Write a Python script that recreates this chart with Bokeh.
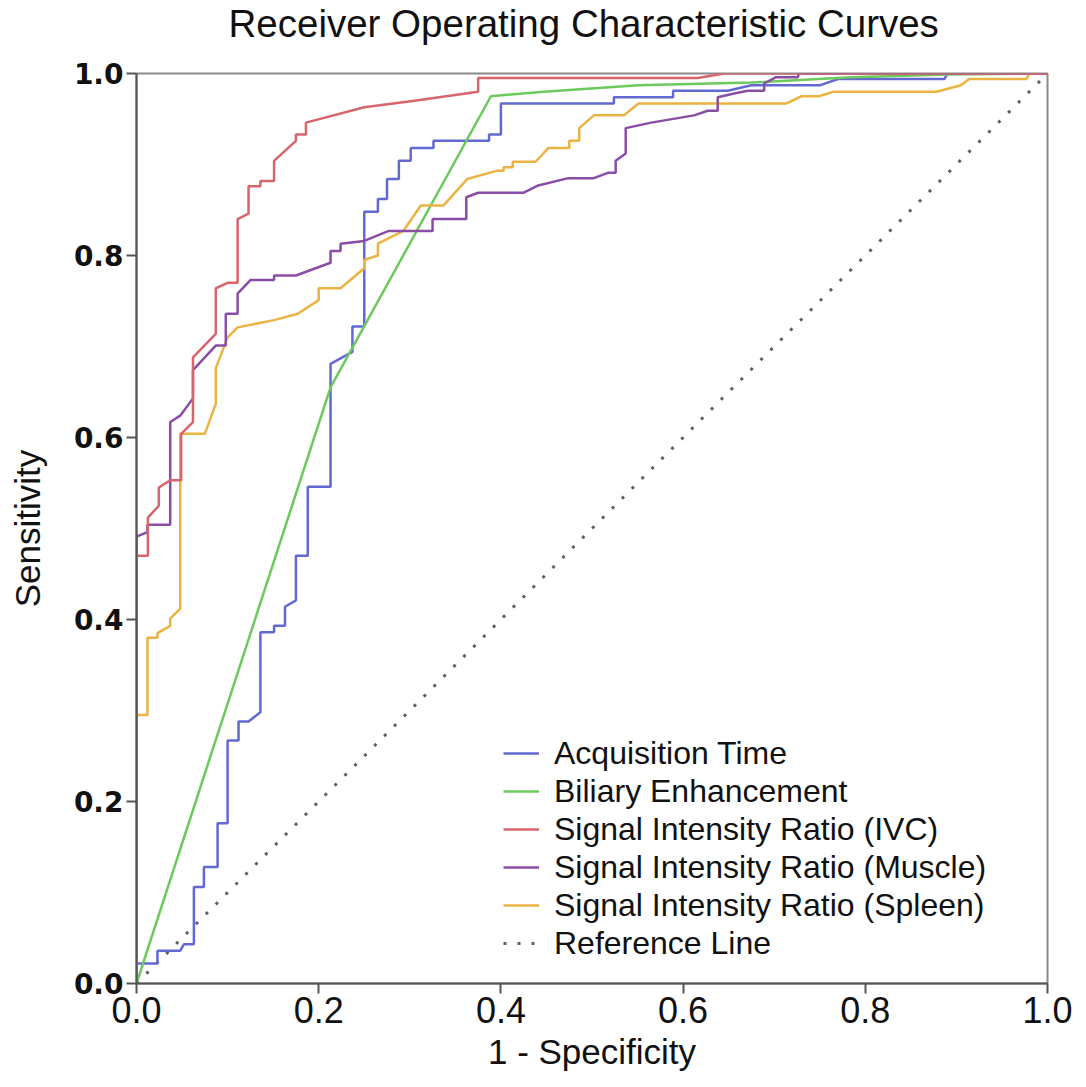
from bokeh.plotting import figure
from bokeh.models import Legend, LegendItem, Range1d, FixedTicker, NumeralTickFormatter, Title
from bokeh.embed import file_html
from bokeh.resources import INLINE

# ---------------- data ----------------
title_text = "Receiver Operating Characteristic Curves"
series_names = [
    "Acquisition Time",
    "Biliary Enhancement",
    "Signal Intensity Ratio (IVC)",
    "Signal Intensity Ratio (Muscle)",
    "Signal Intensity Ratio (Spleen)",
    "Reference Line",
]

acq_fpr = [0, 0, 0.023, 0.023, 0.048, 0.052, 0.063, 0.063, 0.074, 0.074, 0.089, 0.089, 0.100, 0.100,
           0.112, 0.112, 0.123, 0.136, 0.136, 0.151, 0.151, 0.163, 0.163, 0.175, 0.175, 0.188, 0.188,
           0.213, 0.213, 0.237, 0.237, 0.250, 0.250, 0.265, 0.265, 0.275, 0.275, 0.288, 0.288, 0.301,
           0.301, 0.326, 0.326, 0.387, 0.387, 0.400, 0.400, 0.524, 0.524, 0.589, 0.589, 0.649, 0.675,
           0.750, 0.770, 0.887, 0.890, 1.0]
acq_tpr = [0, 0.022, 0.022, 0.036, 0.036, 0.043, 0.043, 0.106, 0.106, 0.128, 0.128, 0.176, 0.176, 0.267,
           0.267, 0.288, 0.288, 0.298, 0.386, 0.386, 0.393, 0.393, 0.414, 0.421, 0.470, 0.470, 0.546,
           0.546, 0.681, 0.694, 0.722, 0.722, 0.848, 0.848, 0.862, 0.862, 0.884, 0.884, 0.904, 0.904,
           0.918, 0.918, 0.926, 0.926, 0.933, 0.933, 0.967, 0.967, 0.974, 0.974, 0.981, 0.981, 0.987,
           0.987, 0.994, 0.994, 1.0, 1.0]

bil_fpr = [0, 0.213, 0.389, 0.447, 0.551, 0.675, 0.785, 0.891, 1.0]
bil_tpr = [0, 0.655, 0.975, 0.980, 0.987, 0.990, 0.996, 0.999, 1.0]

ivc_fpr = [0, 0, 0.0125, 0.0125, 0.0245, 0.0245, 0.037, 0.049, 0.049, 0.062, 0.062, 0.087, 0.087, 0.100,
           0.111, 0.111, 0.123, 0.123, 0.136, 0.136, 0.151, 0.151, 0.175, 0.175, 0.186, 0.186, 0.250,
           0.305, 0.375, 0.375, 0.616, 0.645, 1.0]
ivc_tpr = [0, 0.470, 0.470, 0.512, 0.525, 0.545, 0.553, 0.553, 0.604, 0.617, 0.688, 0.714, 0.764, 0.770,
           0.770, 0.840, 0.846, 0.876, 0.876, 0.882, 0.882, 0.904, 0.926, 0.933, 0.933, 0.946, 0.963,
           0.970, 0.980, 0.995, 0.995, 1.0, 1.0]

mus_fpr = [0, 0, 0.012, 0.012, 0.037, 0.037, 0.048, 0.062, 0.062, 0.087, 0.098, 0.098, 0.111, 0.111,
           0.125, 0.151, 0.151, 0.175, 0.213, 0.213, 0.224, 0.224, 0.250, 0.277, 0.325, 0.325, 0.362,
           0.362, 0.375, 0.425, 0.441, 0.474, 0.502, 0.518, 0.526, 0.526, 0.537, 0.537, 0.565, 0.612,
           0.627, 0.638, 0.638, 0.656, 0.671, 0.689, 0.689, 0.702, 0.726, 0.727, 1.0]
mus_tpr = [0, 0.491, 0.496, 0.504, 0.504, 0.617, 0.624, 0.643, 0.674, 0.701, 0.701, 0.736, 0.736, 0.758,
           0.773, 0.773, 0.778, 0.778, 0.792, 0.805, 0.805, 0.813, 0.816, 0.827, 0.827, 0.840, 0.840,
           0.864, 0.869, 0.869, 0.877, 0.885, 0.885, 0.891, 0.891, 0.904, 0.912, 0.940, 0.946, 0.954,
           0.959, 0.959, 0.974, 0.978, 0.981, 0.981, 0.989, 0.996, 0.996, 1.0, 1.0]

spl_fpr = [0, 0, 0.012, 0.012, 0.023, 0.023, 0.037, 0.037, 0.048, 0.048, 0.075, 0.087, 0.087, 0.100,
           0.111, 0.151, 0.177, 0.200, 0.200, 0.224, 0.250, 0.250, 0.265, 0.265, 0.293, 0.312, 0.337,
           0.363, 0.395, 0.403, 0.403, 0.413, 0.413, 0.438, 0.452, 0.475, 0.475, 0.486, 0.486, 0.502,
           0.535, 0.551, 0.713, 0.730, 0.749, 0.765, 0.878, 0.905, 0.914, 0.977, 0.980, 1.0]
spl_tpr = [0, 0.295, 0.295, 0.380, 0.380, 0.385, 0.393, 0.401, 0.412, 0.604, 0.604, 0.637, 0.676, 0.710,
           0.721, 0.729, 0.736, 0.751, 0.764, 0.764, 0.786, 0.795, 0.800, 0.813, 0.827, 0.855, 0.855,
           0.884, 0.893, 0.893, 0.897, 0.897, 0.903, 0.903, 0.918, 0.918, 0.926, 0.926, 0.940, 0.954,
           0.954, 0.967, 0.967, 0.975, 0.975, 0.980, 0.980, 0.987, 0.994, 0.994, 1.0, 1.0]

ref_x = [0, 1]
ref_y = [0, 1]

x_ticks = [0.0, 0.2, 0.4, 0.6, 0.8, 1.0]
y_ticks = [0.0, 0.2, 0.4, 0.6, 0.8, 1.0]

colors = ["#6369d2", "#6cc95c", "#d8646c", "#8a4da6", "#ebb343", "#606060"]

# ---------------- figure ----------------
FW, FH = 911, 910
p = figure(frame_width=FW, frame_height=FH,
           x_range=Range1d(0, 1), y_range=Range1d(0, 1),
           output_backend="svg", toolbar_location=None,
           min_border_left=136, min_border_right=30, min_border_top=73, min_border_bottom=90,
           background_fill_color="white", border_fill_color="white")

p.title.text = title_text
p.title.align = "left"
p.title.offset = 92
p.title.vertical_align = "top"
p.title.text_font = "Liberation Sans"
p.title.text_font_size = "38.5px"
p.title.text_font_style = "normal"
p.title.text_color = "#111111"
p.title.standoff = 0

# empty spacer between the title and the frame
spacer = Title(text=" ", text_font_size="1px", standoff=24)
p.add_layout(spacer, "above")

p.xgrid.visible = False
p.ygrid.visible = False
p.outline_line_color = "#8a8a8a"
p.outline_line_width = 2

for ax in (p.xaxis[0], p.yaxis[0]):
    ax.axis_line_color = "#555555"
    ax.axis_line_width = 2
    ax.major_tick_line_color = "#555555"
    ax.major_tick_line_width = 2
    ax.major_tick_out = 10
    ax.major_tick_in = 0
    ax.minor_tick_line_color = None
    ax.formatter = NumeralTickFormatter(format="0.0")
    ax.major_label_text_color = "#111111"
    ax.axis_label_text_color = "#111111"
    ax.axis_label_text_font = "Liberation Sans"
    ax.axis_label_text_font_style = "normal"
    ax.axis_label_text_font_size = "35px"

p.xaxis.ticker = FixedTicker(ticks=x_ticks)
p.yaxis.ticker = FixedTicker(ticks=y_ticks)
p.xaxis.axis_label = "1 - Specificity"
p.yaxis.axis_label = "Sensitivity"
p.xaxis.major_label_text_font = "Liberation Sans"
p.xaxis.major_label_text_font_size = "36px"
p.xaxis.major_label_standoff = 3
p.xaxis.axis_label_standoff = 6
p.yaxis.major_label_text_font = "DejaVu Sans"
p.yaxis.major_label_text_font_size = "28px"
p.yaxis.major_label_text_font_style = "bold"
p.yaxis.major_label_standoff = 3
p.yaxis.axis_label_standoff = 24

r_ref = p.line(ref_x, ref_y, line_color=colors[5], line_width=3, line_dash="3 11")
r_acq = p.line(acq_fpr, acq_tpr, line_color=colors[0], line_width=2.5)
r_bil = p.line(bil_fpr, bil_tpr, line_color=colors[1], line_width=2.5)
r_spl = p.line(spl_fpr, spl_tpr, line_color=colors[4], line_width=2.5)
r_mus = p.line(mus_fpr, mus_tpr, line_color=colors[3], line_width=2.5)
r_ivc = p.line(ivc_fpr, ivc_tpr, line_color=colors[2], line_width=2.5)

items = [LegendItem(label=series_names[0], renderers=[r_acq]),
         LegendItem(label=series_names[1], renderers=[r_bil]),
         LegendItem(label=series_names[2], renderers=[r_ivc]),
         LegendItem(label=series_names[3], renderers=[r_mus]),
         LegendItem(label=series_names[4], renderers=[r_spl]),
         LegendItem(label=series_names[5], renderers=[r_ref])]

legend = Legend(items=items, location=(367, 21))
legend.label_text_font = "Liberation Sans"
legend.label_text_font_size = "32px"
legend.label_text_color = "#111111"
legend.glyph_width = 36
legend.glyph_height = 38
legend.label_height = 38
legend.label_standoff = 15
legend.spacing = 0
legend.padding = 0
legend.margin = 0
legend.border_line_color = None
legend.background_fill_alpha = 0
p.add_layout(legend)

open("out.html", "w").write(file_html(p, INLINE, title="ROC Curves"))
